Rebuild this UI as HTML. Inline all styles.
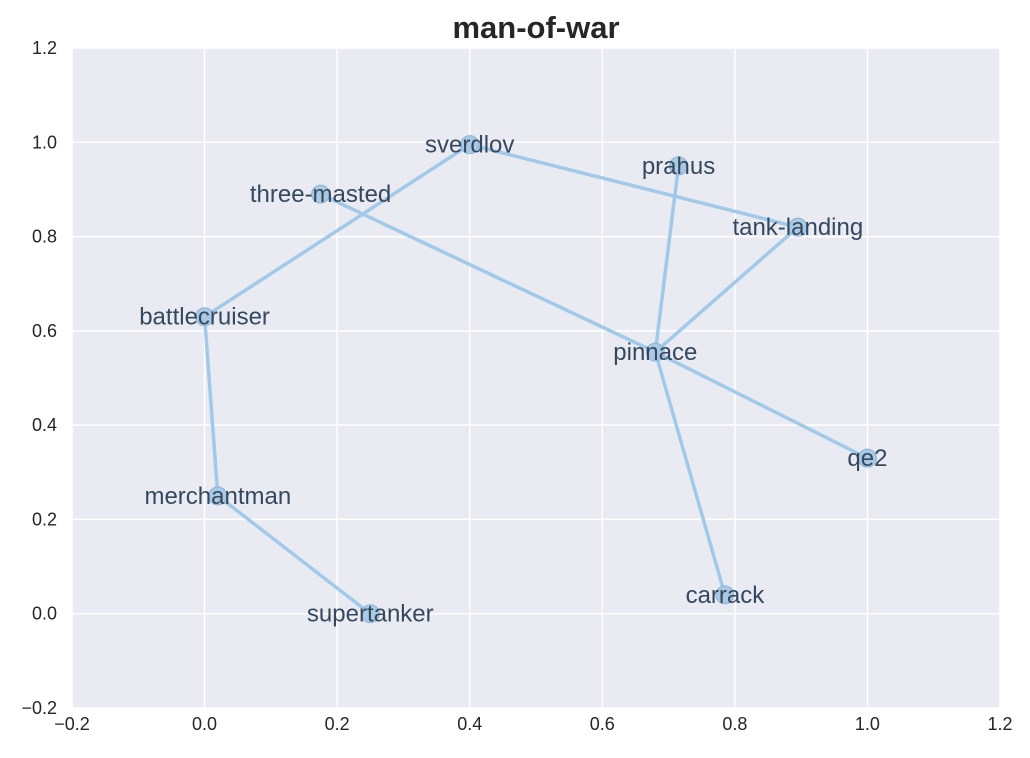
<!DOCTYPE html>
<html><head><meta charset="utf-8"><style>
body{margin:0;background:#fff;}
svg{display:block;font-family:"Liberation Sans",sans-serif;}
</style></head><body>
<svg id="chart" width="1030" height="758"></svg>
<script>
const nodeNames=["sverdlov","prahus","three-masted","tank-landing","battlecruiser","pinnace","qe2","merchantman","carrack","supertanker"];
const nodeX=[0.40,0.715,0.175,0.895,0.0,0.68,1.0,0.02,0.785,0.25];
const nodeY=[0.995,0.95,0.89,0.82,0.63,0.555,0.33,0.25,0.04,0.0];
const edgeFrom=["battlecruiser","sverdlov","tank-landing","prahus","three-masted","pinnace","pinnace","battlecruiser","merchantman"];
const edgeTo=["sverdlov","tank-landing","pinnace","pinnace","pinnace","qe2","carrack","merchantman","supertanker"];
const xTicks=[-0.2,0,0.2,0.4,0.6,0.8,1.0,1.2];
const yTicks=[-0.2,0,0.2,0.4,0.6,0.8,1.0,1.2];
const L=72,R=1000,T=48,B=708;
const sx=v=>L+(v+0.2)/1.4*(R-L);
const sy=v=>B-(v+0.2)/1.4*(B-T);
const svg=document.getElementById('chart');
const NS='http://www.w3.org/2000/svg';
function mk(tag,attrs,parent){const e=document.createElementNS(NS,tag);for(const k in attrs)e.setAttribute(k,attrs[k]);(parent||svg).appendChild(e);return e;}
const bg=mk('rect',{x:L,y:T,width:R-L,height:B-T,fill:'#eaeaf2'});


const fmt=v=>(v<0?'\u2212':'')+Math.abs(v).toFixed(1);
xTicks.forEach(v=>{
  const g=mk('line',{x1:sx(v),x2:sx(v),y1:T,y2:B,stroke:'#fff','stroke-width':1.5});
  
  
  const t=mk('text',{x:sx(v),y:B+22,'text-anchor':'middle','font-size':18,fill:'#262626'});
  t.textContent=fmt(v);
  
  
});
yTicks.forEach(v=>{
  const g=mk('line',{x1:L,x2:R,y1:sy(v),y2:sy(v),stroke:'#fff','stroke-width':1.5});
  
  
  const t=mk('text',{x:L-15,y:sy(v)+6,'text-anchor':'end','font-size':18,fill:'#262626'});
  t.textContent=fmt(v);
  
  
});
const title=mk('text',{x:(L+R)/2,y:38,'text-anchor':'middle','font-size':31,'font-weight':'bold',fill:'#262626'});
title.textContent='man-of-war';


const idx=n=>nodeNames.indexOf(n);
edgeFrom.forEach((f,i)=>{
  const a=idx(f),b=idx(edgeTo[i]);
  const l=mk('line',{x1:sx(nodeX[a]),y1:sy(nodeY[a]),x2:sx(nodeX[b]),y2:sy(nodeY[b]),stroke:'#a1c9e8','stroke-width':3.5});
  
  
});
nodeNames.forEach((n,i)=>{
  const c=mk('circle',{cx:sx(nodeX[i]),cy:sy(nodeY[i]),r:9,fill:'#a9c9e4',stroke:'#8fb3d3','stroke-width':1});
  
  
});
nodeNames.forEach((n,i)=>{
  const t=mk('text',{x:sx(nodeX[i]),y:sy(nodeY[i])+8,'text-anchor':'middle','font-size':24,fill:'#34495e'});
  t.textContent=n;
  
  
});
</script>
</body></html>
